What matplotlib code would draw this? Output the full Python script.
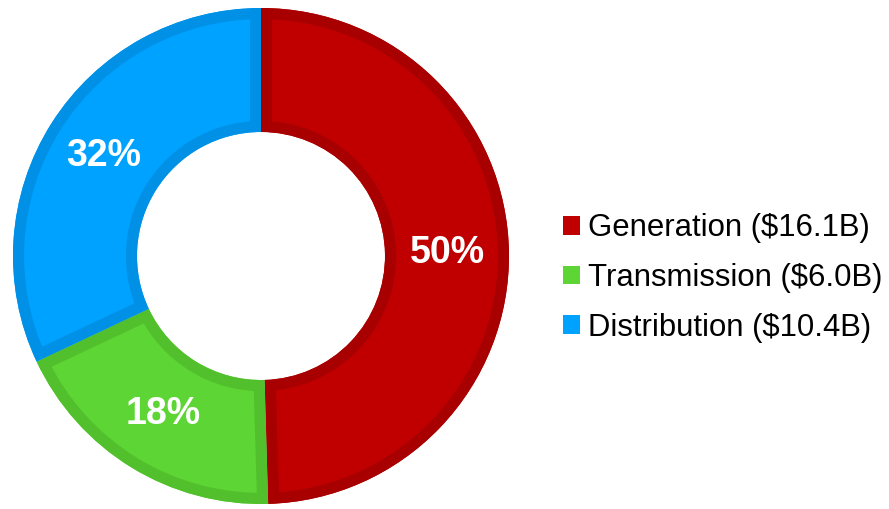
import matplotlib.pyplot as plt
from matplotlib.patches import Patch, Wedge

plt.rcParams['font.family'] = ['Liberation Sans', 'DejaVu Sans']

# Data
segments = ["Generation", "Transmission", "Distribution"]
values = [16.1, 6.0, 10.4]
fill_colors = ["#C00000", "#5DD535", "#00A2FF"]
edge_colors = ["#A80000", "#52C02D", "#0091E6"]
legend_labels = [f"{s} (${v:.1f}B)" for s, v in zip(segments, values)]

fig = plt.figure(figsize=(8.89, 5.09), dpi=100)
ax = fig.add_axes([13 / 889, 5 / 509, 496 / 889, 496 / 509])

wedges, texts, autotexts = ax.pie(
    values,
    colors=fill_colors,
    startangle=90,
    counterclock=False,
    radius=1.0,
    autopct="%.0f%%",
    pctdistance=0.75,
    wedgeprops=dict(width=0.5, linewidth=0),
    textprops=dict(color="white", fontsize=27, fontweight="bold"),
)

# inner stroke: thick outline clipped to the wedge shape
for w, ec in zip(wedges, edge_colors):
    outline = Wedge(w.center, w.r, w.theta1, w.theta2, width=w.width,
                    facecolor="none", edgecolor=ec, linewidth=16, zorder=w.get_zorder() + 0.1)
    ax.add_patch(outline)
    outline.set_clip_path(w)

for t in autotexts:
    t.set_zorder(5)

ax.set_xlim(-1, 1)
ax.set_ylim(-1, 1)
ax.set_aspect("equal")
ax.axis("off")

handles = [Patch(facecolor=c, edgecolor="none") for c in fill_colors]
fig.legend(
    handles, legend_labels,
    loc="center left",
    bbox_to_anchor=(563 / 889, 1 - 278 / 509),
    frameon=False,
    fontsize=22.4,
    borderaxespad=0,
    borderpad=0,
    handlelength=0.55,
    handleheight=0.55,
    handletextpad=0.25,
    labelspacing=0.63,
)

fig.savefig("out.png", dpi=100)
